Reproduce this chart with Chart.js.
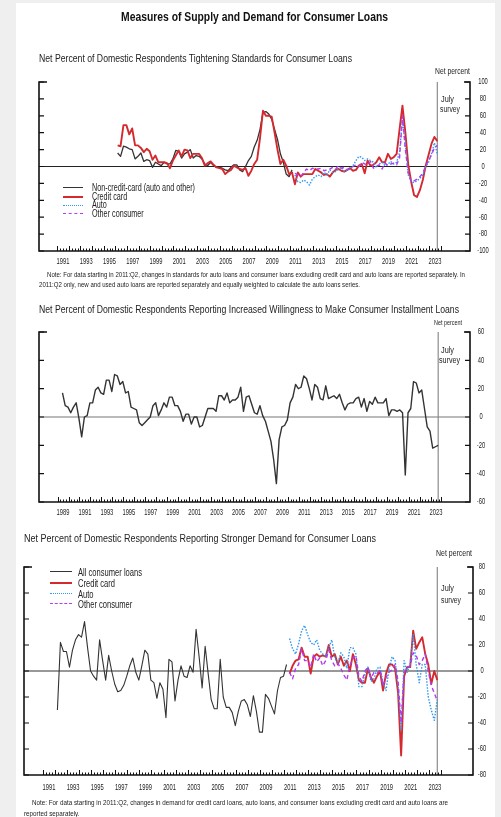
<!DOCTYPE html>
<html><head><meta charset="utf-8">
<script src="https://cdn.jsdelivr.net/npm/chart.js@4.4.1/dist/chart.umd.min.js"></script>
<style>
html,body{margin:0;padding:0;}
body{width:501px;height:817px;background:#efefef;position:relative;overflow:hidden;
 font-family:"Liberation Sans Narrow","Arial Narrow","Liberation Sans",Arial,sans-serif;color:#222;}
#panel{position:absolute;left:16px;top:3px;width:479px;height:814px;background:#fff;}
canvas{position:absolute;left:0;top:0;}
.t{position:absolute;white-space:nowrap;line-height:1;transform-origin:0 0;}
.lg{position:absolute;height:0;}
</style></head><body>
<div id="panel"></div>
<canvas id="c1" width="501" height="817"></canvas>
<canvas id="c2" width="501" height="817"></canvas>
<canvas id="c3" width="501" height="817"></canvas>

<div class="t" data-w="267" style="left:121px;top:11px;font-size:12px;font-weight:bold;color:#111">Measures of Supply and Demand for Consumer Loans</div>

<div class="t" data-w="313" style="left:39px;top:54px;font-size:10px">Net Percent of Domestic Respondents Tightening Standards for Consumer Loans</div>
<div class="t" data-w="35" style="left:435px;top:66.5px;font-size:8.5px">Net percent</div>
<div class="t" data-w="13" style="left:440.5px;top:94.5px;font-size:8.5px">July</div>
<div class="t" data-w="20" style="left:440px;top:104.5px;font-size:8.5px">survey</div>
<div class="lg" style="left:63px;top:187px;width:20px;border-top:1.8px solid #333"></div>
<div class="lg" style="left:63px;top:196px;width:20px;border-top:2.2px solid #d42a2f"></div>
<div class="lg" style="left:63px;top:204.5px;width:20px;border-top:1.5px dotted #2f98f2"></div>
<div class="lg" style="left:63px;top:213px;width:20px;border-top:1.5px dashed #b23cf2"></div>
<div class="t" data-w="103" data-g="g1" style="left:92px;top:183px;font-size:10px">Non-credit-card (auto and other)</div>
<div class="t" data-g="g1" style="left:92px;top:191.8px;font-size:10px">Credit card</div>
<div class="t" data-g="g1" style="left:92px;top:200.3px;font-size:10px">Auto</div>
<div class="t" data-g="g1" style="left:92px;top:209px;font-size:10px">Other consumer</div>
<div class="t" data-w="418" style="left:47px;top:270.5px;font-size:7px">Note: For data starting in 2011:Q2, changes in standards for auto loans and consumer loans excluding credit card and auto loans are reported separately. In</div>
<div class="t" data-w="321" style="left:39px;top:280.5px;font-size:7px">2011:Q2 only, new and used auto loans are reported separately and equally weighted to calculate the auto loans series.</div>

<div class="t" data-w="420" style="left:39px;top:304.5px;font-size:10px">Net Percent of Domestic Respondents Reporting Increased Willingness to Make Consumer Installment Loans</div>
<div class="t" data-w="28" style="left:434px;top:318.5px;font-size:8px">Net percent</div>
<div class="t" data-w="13" style="left:440.5px;top:345.5px;font-size:8.5px">July</div>
<div class="t" data-w="21" style="left:439px;top:355.5px;font-size:8.5px">survey</div>

<div class="t" data-w="352" style="left:24px;top:534px;font-size:10px">Net Percent of Domestic Respondents Reporting Stronger Demand for Consumer Loans</div>
<div class="t" data-w="36" style="left:435.5px;top:548.5px;font-size:9px">Net percent</div>
<div class="t" data-w="13" style="left:440.7px;top:583.5px;font-size:8.5px">July</div>
<div class="t" data-w="20" style="left:440.7px;top:595.5px;font-size:8.5px">survey</div>
<div class="lg" style="left:50px;top:571px;width:22px;border-top:1.8px solid #333"></div>
<div class="lg" style="left:50px;top:582px;width:22px;border-top:2.2px solid #d42a2f"></div>
<div class="lg" style="left:50px;top:593px;width:22px;border-top:1.5px dotted #2f98f2"></div>
<div class="lg" style="left:50px;top:603px;width:22px;border-top:1.5px dashed #b23cf2"></div>
<div class="t" data-w="64" data-g="g3" style="left:78px;top:566.5px;font-size:11px">All consumer loans</div>
<div class="t" data-g="g3" style="left:78px;top:577.5px;font-size:11px">Credit card</div>
<div class="t" data-g="g3" style="left:78px;top:588.5px;font-size:11px">Auto</div>
<div class="t" data-g="g3" style="left:78px;top:598.5px;font-size:11px">Other consumer</div>
<div class="t" data-w="416" data-g="g4" style="left:31.7px;top:798.5px;font-size:7px">Note: For data starting in 2011:Q2, changes in demand for credit card loans, auto loans, and consumer loans excluding credit card and auto loans are</div>
<div class="t" data-g="g4" style="left:24px;top:809.5px;font-size:7px">reported separately.</div>

<script>
// ---------- DATA (quarterly, net percent) ----------
// Panel 1: tightening standards
const tightNonCCStart = [1996, 1];
const tightNonCC = [16,12,24,23,21,20,9,12,16,6,8,7,-1,5,3,1,5,3,3,9,19,18,10,15,17,20,10,13,12,9,3,1,5,1,-1,-1,-2,-4,-5,-1,2,2,-4,-6,0,7,12,23,31,44,64,65,62,56,44,32,15,5,-9,-12,-4];
const tightCCStart = [1996, 1];
const tightCC = [25,24,49,49,38,45,25,25,22,17,21,18,8,13,5,5,5,4,-2,7,13,19,12,20,19,10,15,15,15,10,1,4,6,2,-1,-2,-3,-9,-6,-4,1,-1,-3,-4,-2,-11,-5,3,8,34,66,60,60,59,40,20,3,
  8,1,-9,-7,-21,-7,-12,-9,-9,-9,-9,-3,-5,-7,-10,-9,-12,-7,-4,-3,-5,-6,-4,-2,-5,-4,1,3,-8,7,1,2,5,11,5,5,15,9,11,15,44,
  72,40,2,-18,-34,-36,-28,-16,1,14,27,35,30];
const tightAutoStart = [2011, 2];
const tightAuto = [-10,-18,-19,-16,-18,-22,-15,-12,-10,-12,-7,-10,-4,-7,-6,-3,-1,-6,-4,-3,1,7,12,11,7,9,7,5,-1,3,5,1,3,6,3,5,17,55,25,-10,-18,-19,-17,-14,-10,0,5,15,28,15];
const tightOtherStart = [2011, 2];
const tightOther = [-8,-10,-12,-7,-3,-5,-2,-3,-3,-2,-5,-4,-3,-1,-3,1,-2,-1,-4,-2,0,2,0,5,3,2,6,-2,0,2,-3,4,1,3,4,2,10,60,20,-8,-18,-17,-15,-12,-8,1,7,14,22,25];

// Panel 2: willingness to make consumer installment loans
const willingStart = [1989, 2];
const willing = [17,8,7,3,7,10,-1,-14,0,1,10,10,19,21,17,16,26,26,18,30,29,23,25,17,18,7,6,5,-4,-6,-4,-2,0,8,10,1,5,10,7,14,14,8,8,4,-3,2,2,-5,0,0,-7,-6,0,6,6,6,4,15,15,12,17,10,12,12,14,21,4,14,15,
  9,3,2,8,1,-3,-10,-17,-30,-47,-16,-7,-6,-2,10,14,23,20,21,29,27,20,12,23,21,13,12,22,13,14,15,13,16,10,5,9,10,10,13,14,7,13,4,11,9,14,10,10,10,13,1,5,5,4,5,3,-41,
  3,6,25,24,17,19,6,-7,-10,-22,-21,-20];

// Panel 3: stronger demand
const demandAllStart = [1992, 1];
const demandAll = [-30,22,15,15,3,16,24,28,26,38,18,0,-4,-7,24,8,-7,12,0,-10,-16,-15,-11,-4,4,10,-1,-7,4,16,13,-7,-9,-21,-9,-14,-36,9,7,-23,-7,4,-4,-5,4,-1,32,11,-13,19,-2,-22,-29,-29,9,-20,-28,-28,-32,-42,-31,
  -23,-22,-26,-35,-19,-31,-47,-47,-18,-21,-27,-33,-15,-5,-4,5];
const demandCCStart = [2011, 2];
const demandCC = [-2,4,8,9,18,11,11,-2,11,13,11,12,11,20,11,13,5,11,4,8,0,13,5,-7,-9,-9,2,-5,-9,-4,0,-15,-2,5,5,2,-17,-65,-4,3,3,31,17,22,26,13,5,-10,0,-7];
const demandAutoStart = [2011, 2];
const demandAuto = [25,17,13,21,31,35,28,22,20,24,16,13,11,18,24,10,6,14,11,2,18,18,13,-12,-12,-2,3,-8,-6,2,3,-9,-15,2,11,8,-12,-45,8,-1,5,28,5,-9,5,5,-20,-30,-38,-22];
const demandOtherStart = [2011, 2];
const demandOther = [-1,-6,2,5,17,8,8,3,13,7,10,4,8,16,8,4,6,2,-3,-7,4,10,12,-4,-8,0,3,-6,-1,-2,1,-11,-5,-1,1,5,-8,-40,-1,3,4,14,12,5,8,13,0,-11,-17,-23];

// Tick labels
const yTicks1 = [100,80,60,40,20,0,-20,-40,-60,-80,-100];
const yTicks2 = [60,40,20,0,-20,-40,-60];
const yTicks3 = [80,60,40,20,0,-20,-40,-60,-80];
const xLabels1 = [1991,1993,1995,1997,1999,2001,2003,2005,2007,2009,2011,2013,2015,2017,2019,2021,2023];
const xLabels2 = [1989,1991,1993,1995,1997,1999,2001,2003,2005,2007,2009,2011,2013,2015,2017,2019,2021,2023];
const xLabels3 = [1991,1993,1995,1997,1999,2001,2003,2005,2007,2009,2011,2013,2015,2017,2019,2021,2023];
const julySurvey = [2023, 3];

// ---------- narrow text (no condensed font installed) ----------
(function () {
  const groups = {};
  document.querySelectorAll('.t[data-w]').forEach(el => {
    const s = parseFloat(el.dataset.w) / el.getBoundingClientRect().width;
    el.style.transform = 'scaleX(' + s + ')';
    if (el.dataset.g) groups[el.dataset.g] = s;
  });
  document.querySelectorAll('.t[data-g]:not([data-w])').forEach(el => {
    el.style.transform = 'scaleX(' + groups[el.dataset.g] + ')';
  });
})();

// ---------- helpers ----------
const QPOS = 0.2; // position of a quarter's point inside its quarter slot
function qx(y, q) { return y + (q - 1) / 4 + QPOS; }
function pts(start, vals) {
  return vals.map((v, i) => {
    const n = (start[1] - 1) + i;
    return { x: qx(start[0] + Math.floor(n / 4), (n % 4) + 1), y: v };
  });
}
const C = { black:'#333333', red:'#d42a2f', blue:'#2f98f2', purple:'#b23cf2' };
const TF = '"Liberation Sans Narrow","Arial Narrow","Liberation Sans",Arial,sans-serif';
const NARROW = 0.68;

function narrowText(ctx, s, x, y) {
  ctx.save();
  ctx.translate(x, y); ctx.scale(NARROW, 1);
  ctx.fillText(s, 0, 0);
  ctx.restore();
}

const framePlugin = {
  id: 'frame',
  beforeDatasetsDraw(chart, args, o) {
    const { ctx, chartArea: a, scales: { x, y } } = chart;
    ctx.save();
    const y0 = y.getPixelForValue(0);
    ctx.strokeStyle = o.zeroColor; ctx.lineWidth = 1.1;
    ctx.beginPath(); ctx.moveTo(a.left, y0); ctx.lineTo(a.right, y0); ctx.stroke();
    const jx = x.getPixelForValue(qx(julySurvey[0], julySurvey[1]));
    ctx.strokeStyle = '#8c8c8c'; ctx.lineWidth = 1.2;
    ctx.beginPath(); ctx.moveTo(jx, a.top); ctx.lineTo(jx, a.bottom); ctx.stroke();
    ctx.restore();
  },
  afterDatasetsDraw(chart, args, o) {
    const { ctx, chartArea: a, scales: { x, y } } = chart;
    ctx.save();
    ctx.strokeStyle = '#111'; ctx.lineWidth = 1.6;
    ctx.beginPath();
    ctx.moveTo(a.left + 8, a.top); ctx.lineTo(a.left, a.top); ctx.lineTo(a.left, a.bottom);
    ctx.lineTo(a.right, a.bottom); ctx.lineTo(a.right, a.top); ctx.lineTo(a.right - 6, a.top);
    ctx.stroke();
    ctx.lineWidth = 1.2;
    ctx.fillStyle = '#222';
    ctx.font = '8.5px ' + TF;
    ctx.textAlign = 'center'; ctx.textBaseline = 'middle';
    o.yTicks.forEach(v => {
      const py = y.getPixelForValue(v);
      ctx.beginPath();
      ctx.moveTo(a.left, py); ctx.lineTo(a.left + 5, py);
      ctx.moveTo(a.right - 5, py); ctx.lineTo(a.right, py);
      ctx.stroke();
      narrowText(ctx, String(v), a.right + o.labelDx, py);
    });
    ctx.lineWidth = 1;
    for (let yr = o.tickFrom; yr <= o.tickTo; yr++) {
      for (let q = 0; q < 4; q++) {
        if (yr === o.tickTo && q > 0) break;
        const px = Math.round(x.getPixelForValue(yr + q / 4)) + 0.5;
        const len = q === 0 ? 5 : 2.5;
        ctx.beginPath(); ctx.moveTo(px, a.bottom); ctx.lineTo(px, a.bottom - len); ctx.stroke();
      }
    }
    o.xLabels.forEach(yr => narrowText(ctx, String(yr), x.getPixelForValue(yr + 0.5), a.bottom + o.xLabelDy));
    ctx.restore();
  }
};

function makeChart(id, area, xr, yr, datasets, frame) {
  return new Chart(document.getElementById(id), {
    type: 'line',
    data: { datasets },
    options: {
      responsive: false, animation: false, devicePixelRatio: 1,
      layout: { padding: { left: area[0], top: area[1], right: 501 - area[2], bottom: 817 - area[3] } },
      scales: {
        x: { type: 'linear', min: xr[0], max: xr[1], display: false },
        y: { min: yr[0], max: yr[1], display: false }
      },
      elements: { point: { radius: 0 }, line: { tension: 0, fill: false } },
      plugins: { legend: { display: false }, tooltip: { enabled: false }, frame }
    },
    plugins: [framePlugin]
  });
}
function ds(data, color, width, dash, order) {
  return { data, borderColor: color, borderWidth: width, borderDash: dash || [], order, pointRadius: 0, borderJoinStyle: 'round' };
}

// Panel 1
makeChart('c1', [39, 82, 470, 251], [1989.435, 2026.51], [-100, 100], [
  ds(pts(tightOtherStart, tightOther), C.purple, 1.4, [4, 3], 1),
  ds(pts(tightAutoStart, tightAuto), C.blue, 1.4, [1.5, 1.5], 2),
  ds(pts(tightCCStart, tightCC), C.red, 1.9, null, 3),
  ds(pts(tightNonCCStart, tightNonCC), C.black, 1.3, null, 4)
], { yTicks: yTicks1, xLabels: xLabels1, zeroColor: '#222', tickFrom: 1991, tickTo: 2024, labelDx: 13, xLabelDy: 11 });

// Panel 2
makeChart('c2', [39, 332, 470, 502], [1987.31, 2026.6], [-60, 60], [
  ds(pts(willingStart, willing), C.black, 1.4, null, 1)
], { yTicks: yTicks2, xLabels: xLabels2, zeroColor: '#777', tickFrom: 1989, tickTo: 2024, labelDx: 11, xLabelDy: 10.5 });

// Panel 3
makeChart('c3', [24, 567, 473, 775], [1989.43, 2026.66], [-80, 80], [
  ds(pts(demandOtherStart, demandOther), C.purple, 1.4, [4, 3], 1),
  ds(pts(demandAutoStart, demandAuto), C.blue, 1.4, [1.5, 1.5], 2),
  ds(pts(demandCCStart, demandCC), C.red, 1.9, null, 3),
  ds(pts(demandAllStart, demandAll), C.black, 1.1, null, 4)
], { yTicks: yTicks3, xLabels: xLabels3, zeroColor: '#333', tickFrom: 1991, tickTo: 2024, labelDx: 9, xLabelDy: 12.5 });
</script>
</body></html>
